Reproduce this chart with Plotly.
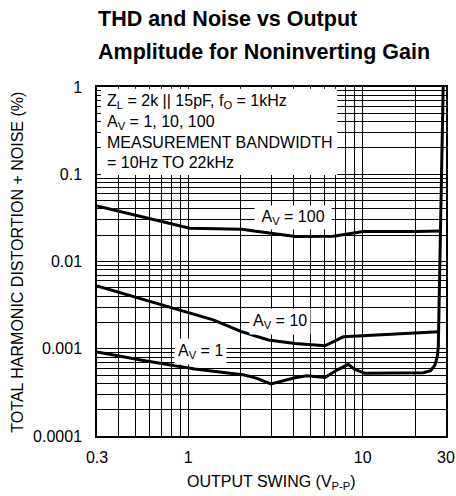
import math
import plotly.graph_objects as go

# ---- data ----
av100_x = [0.3, 1.02, 2.02, 3.0, 4.09, 6.78, 10.07, 20.0, 27.9]
av100_y = [0.0433, 0.0240, 0.0234, 0.0211, 0.0193, 0.0195, 0.0220, 0.0221, 0.0224]

av10_x = [0.3, 0.877, 1.39, 2.02, 2.88, 4.09, 6.08, 7.74, 10.0, 27.2]
av10_y = [0.00524, 0.00278, 0.00214, 0.00157, 0.00126, 0.00115, 0.00108, 0.00137, 0.00141, 0.00157]

av1_x = [0.3, 0.565, 1.09, 2.1, 2.45, 2.98, 4.09, 4.77, 6.08, 7.0, 8.26, 9.0, 10.3, 22.2, 24.5, 25.9,
         26.7, 27.1, 28.9]
av1_y = [0.00092, 0.00073, 0.000586, 0.000500, 0.00046, 0.000395, 0.000466, 0.00049, 0.000468, 0.00056,
         0.000663, 0.00058, 0.000523, 0.000532, 0.00056, 0.00065, 0.00080, 0.00105, 1.0]

x_tick_vals = [0.3, 0.4, 0.5, 0.6, 0.7, 0.8, 0.9, 1, 2, 3, 4, 5, 6, 7, 8, 9, 10, 20, 30]
x_tick_labels = {0.3: "0.3", 1: "1", 10: "10", 30: "30"}
y_decades = [-4, -3, -2, -1]
y_tick_labels = {1e-4: "0.0001", 1e-3: "0.001", 1e-2: "0.01", 1e-1: "0.1", 1.0: "1"}

labels = [
    ("\u00a0A<sub>V</sub> = 100\u00a0", 4.0, 0.0316, 2),
    ("A<sub>V</sub> = 10", 3.36, 0.00208, 3),
    ("A<sub>V</sub> = 1", 1.18, 0.000942, 3),
]

FONT = "Liberation Sans, Arial, Helvetica, sans-serif"

y_tick_vals = []
for e in y_decades:
    for m in range(1, 10):
        y_tick_vals.append(round(m * 10 ** e, 10))
y_tick_vals.append(1.0)

def ylab(v):
    for k, t in y_tick_labels.items():
        if abs(v - k) < 1e-12:
            return t
    return ""

fig = go.Figure()
line = dict(color="black", width=3)
for xs, ys in [(av100_x, av100_y), (av10_x, av10_y), (av1_x, av1_y)]:
    fig.add_trace(go.Scatter(x=xs, y=ys, mode="lines", line=line, showlegend=False, hoverinfo="skip"))

fig.update_xaxes(
    type="log", range=[math.log10(0.3), math.log10(30)], automargin=False,
    tickvals=x_tick_vals, ticktext=[x_tick_labels.get(v, "") for v in x_tick_vals],
    showgrid=True, gridcolor="black", gridwidth=1,
    showline=True, linecolor="black", linewidth=1.5, mirror=True,
    ticks="", ticklabelstandoff=6, zeroline=False,
    tickfont=dict(family=FONT, size=16, color="black"),
)
fig.update_yaxes(
    type="log", range=[-4, 0], automargin=False,
    tickvals=y_tick_vals, ticktext=[ylab(v) for v in y_tick_vals],
    showgrid=True, gridcolor="black", gridwidth=1,
    showline=True, linecolor="black", linewidth=1.5, mirror=True,
    ticks="", ticklabelstandoff=10, zeroline=False,
    tickfont=dict(family=FONT, size=16, color="black"),
)

# white conditions box in the upper left
fig.add_shape(type="rect", xref="paper", yref="paper", x0=0.0115, x1=0.688, y0=0.748, y1=0.995,
              fillcolor="white", line=dict(width=0), layer="above")

anns = []
anns.append(dict(
    xref="paper", yref="paper", x=0.023, y=0.99, xanchor="left", yanchor="top", align="left",
    text="Z<sub>L</sub> = 2k || 15pF, f<sub>O</sub> = 1kHz<br>A<sub>V</sub> = 1, 10, 100<br>"
         "MEASUREMENT BANDWIDTH<br>= 10Hz TO 22kHz",
    showarrow=False, font=dict(family=FONT, size=16, color="black")))
for txt, lx, ly, pad in labels:
    anns.append(dict(x=math.log10(lx), y=math.log10(ly), xref="x", yref="y", text=txt,
                     showarrow=False, bgcolor="white", borderpad=pad,
                     font=dict(family=FONT, size=16, color="black")))
# titles
anns.append(dict(xref="paper", yref="paper", x=0.5, y=-0.132, xanchor="center", yanchor="middle",
                 text="OUTPUT SWING (V<sub>P-P</sub>)", showarrow=False,
                 font=dict(family=FONT, size=16, color="black")))
anns.append(dict(xref="paper", yref="paper", x=-0.229, y=0.497, xanchor="center", yanchor="middle",
                 text="TOTAL HARMONIC DISTORTION + NOISE (%)", textangle=-90, showarrow=False,
                 font=dict(family=FONT, size=16, color="black")))
anns.append(dict(xref="paper", yref="paper", x=-0.003, y=(436 - 18.5) / 349, xanchor="left", yanchor="middle",
                 text="<b>THD and Noise vs Output</b>", showarrow=False,
                 font=dict(family=FONT, size=21.5, color="black")))
anns.append(dict(xref="paper", yref="paper", x=-0.003, y=(436 - 52) / 349, xanchor="left", yanchor="middle",
                 text="<b>Amplitude for Noninverting Gain</b>", showarrow=False,
                 font=dict(family=FONT, size=21.5, color="black")))

fig.update_layout(
    width=456, height=496,
    margin=dict(l=97, r=10, t=87, b=60),
    paper_bgcolor="white", plot_bgcolor="white",
    annotations=anns,
    font=dict(family=FONT, color="black"),
)

fig.write_html("out.html", config={"displayModeBar": False},
               post_script="document.body.style.margin='0';document.body.style.padding='0';")
